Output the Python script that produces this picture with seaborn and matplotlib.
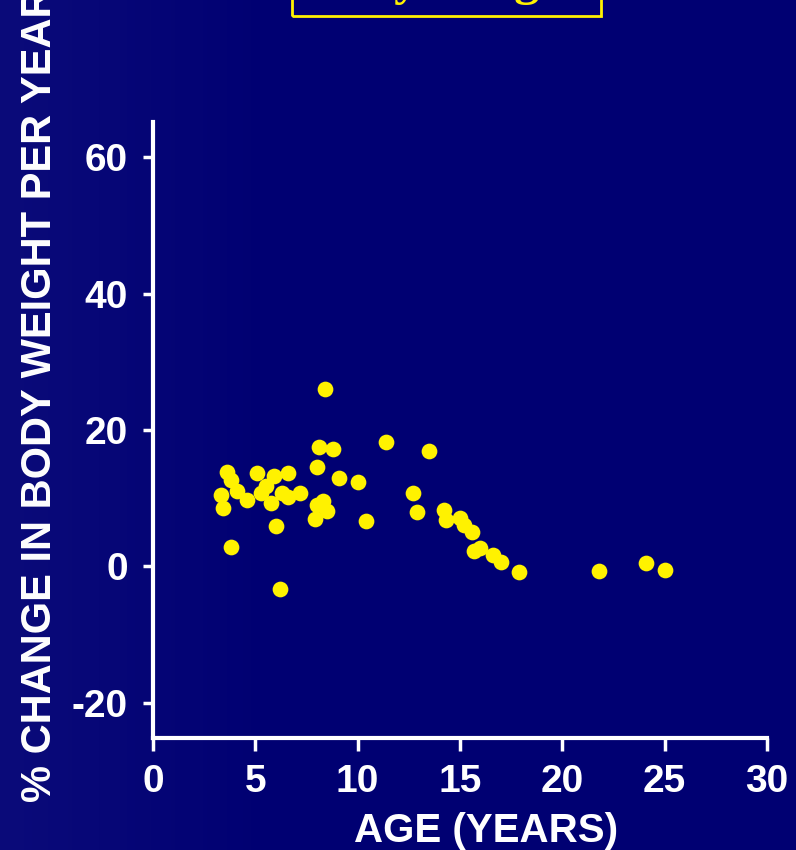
import numpy as np
import pandas as pd
import matplotlib
matplotlib.use("Agg")
import matplotlib.pyplot as plt
import seaborn as sns
from matplotlib.patches import Rectangle
from matplotlib.colors import LinearSegmentedColormap

# ---- data ----
age = [3.3, 3.4, 3.6, 3.8, 3.8, 4.1, 4.6, 5.1, 5.3, 5.5, 5.75, 5.9, 6.0, 6.2, 6.3,
       6.6, 6.6, 7.2, 7.9, 8.0, 8.0, 8.1, 8.3, 8.4, 8.5, 8.8, 9.1, 10.0, 10.4, 11.4,
       12.7, 12.9, 13.5, 14.2, 14.3, 15.0, 15.2, 15.6, 15.7, 16.0, 16.6, 17.0, 17.9,
       21.8, 24.1, 25.0]
change = [10.4, 8.5, 13.9, 12.6, 2.9, 11.0, 9.8, 13.7, 10.7, 11.8, 9.3, 13.3, 5.9, -3.3, 10.7,
          13.7, 10.1, 10.7, 6.9, 14.5, 9.0, 17.5, 9.6, 26.0, 8.1, 17.2, 13.0, 12.4, 6.6, 18.3,
          10.7, 8.0, 16.9, 8.3, 6.8, 7.1, 6.0, 5.0, 2.2, 2.7, 1.6, 0.7, -0.8,
          -0.7, 0.5, -0.6]
x_ticks = [0, 5, 10, 15, 20, 25, 30]
y_ticks = [-20, 0, 20, 40, 60]
title_text = "Body Weight"
x_label = "AGE (YEARS)"
y_label = "% CHANGE IN BODY WEIGHT PER YEAR"

df = pd.DataFrame({"age": age, "change": change})

sns.set_theme(style="white")
plt.rcParams['font.family'] = ['Liberation Sans', 'DejaVu Sans']
narrow = ['Liberation Sans Narrow', 'Liberation Sans', 'DejaVu Sans']

W, H = 796, 850
fig = plt.figure(figsize=(W / 100, H / 100), dpi=100)

# background gradient (slightly lighter towards the left edge)
bg = fig.add_axes([0, 0, 1, 1], zorder=-10)
xx = np.linspace(0, 1, 200)
yy = np.linspace(0, 1, 200)
X, Y = np.meshgrid(xx, yy)
t = np.clip(1 - X / 0.35, 0, 1) * 0.6
cmap = LinearSegmentedColormap.from_list("bgc", ["#000072", "#12127F"])
bg.imshow(t, cmap=cmap, vmin=0, vmax=1, aspect="auto", extent=[0, 1, 0, 1], origin="lower")
bg.set_axis_off()

ax = fig.add_axes([153 / W, 1 - 738 / H, (767 - 153) / W, (738 - 122) / H])
ax.patch.set_alpha(0)
sns.scatterplot(data=df, x="age", y="change", ax=ax, s=128, color="#FFF200",
                linewidth=0, legend=False, zorder=3)

ax.set_xlim(0, 30)
ax.set_ylim(-25.2, 65.2)
ax.set_xticks(x_ticks)
ax.set_yticks(y_ticks)
for s in ["top", "right"]:
    ax.spines[s].set_visible(False)
for s in ["left", "bottom"]:
    ax.spines[s].set_color("white")
    ax.spines[s].set_linewidth(3)
    ax.spines[s].set_capstyle("projecting")
ax.tick_params(axis="x", direction="out", length=9, width=2.5, color="white",
               pad=10, bottom=True)
ax.tick_params(axis="y", direction="out", length=7, width=2.5, color="white",
               pad=11, left=True)
ax.set_xticklabels([str(v) for v in x_ticks], family=narrow, fontsize=28,
                   fontweight="bold", color="white")
ax.set_yticklabels([str(v) for v in y_ticks], fontsize=28,
                   fontweight="bold", color="white")
ax.set_xlabel("")
ax.set_ylabel("")
ax.grid(False)

fig.text(486 / W, 1 - 812 / H, x_label, ha="center", va="top", family=narrow,
         fontsize=29, fontweight="bold", color="white")
fig.text(40 / W, 1 - 802 / H, y_label, ha="center", va="bottom", rotation=90,
         family=narrow, fontsize=30, fontweight="bold", color="white")

# title box (cut at top)
fig.add_artist(Rectangle((292 / W, 1 - 16 / H), (601 - 292) / W, 40 / H,
                         transform=fig.transFigure, fill=False,
                         edgecolor="#FFF200", linewidth=2))
fig.text(446 / W, 1 + 6 / H, title_text, ha="center", va="baseline",
         family=['Liberation Serif', 'DejaVu Serif'], fontsize=36,
         fontweight="bold", color="#FFF200")

fig.savefig("out.png", dpi=100, facecolor="#000072")
